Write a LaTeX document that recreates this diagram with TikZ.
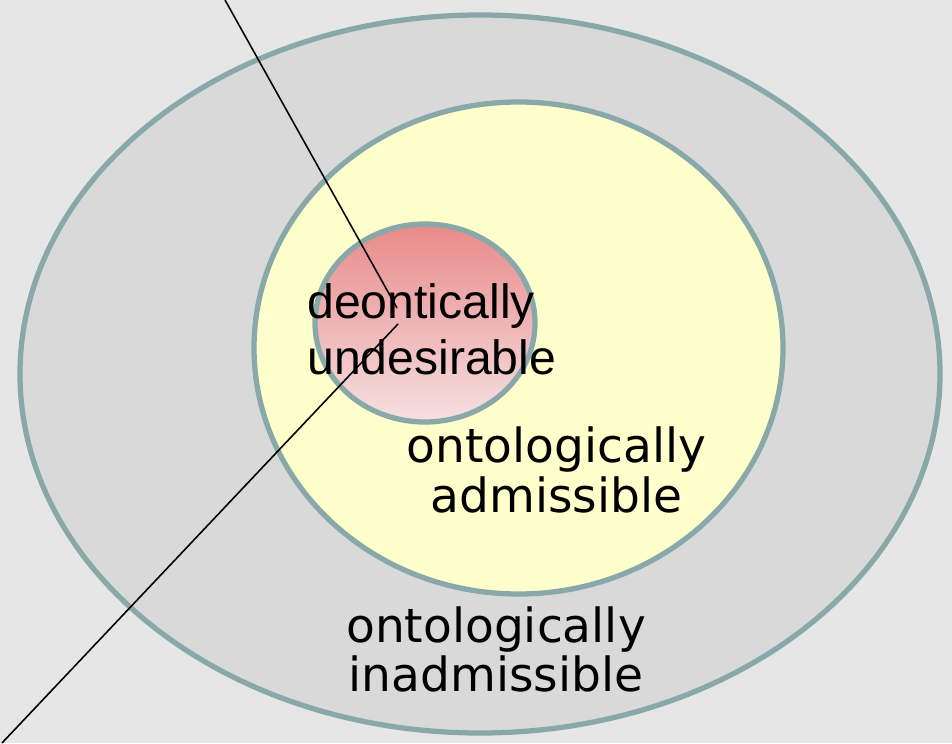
\documentclass[tikz,border=0pt]{standalone}
\usepackage{fontspec}
\setmainfont{Liberation Sans}
\newfontfamily\wideface{DejaVu Sans}
\usetikzlibrary{calc, positioning}

\definecolor{rim}{HTML}{88A8AA}
\definecolor{pagegray}{HTML}{E6E6E6}
\definecolor{outergray}{HTML}{D9D9D9}
\definecolor{paleyellow}{HTML}{FFFFCC}
\definecolor{rosetop}{HTML}{E88A8A}
\definecolor{rosebottom}{HTML}{F6E0E1}

\tikzset{
  region/.style={draw=rim, line width=3pt},
  label/.style={inner sep=0pt, align=center, font=\wideface\fontsize{26.8}{28.3}\selectfont},
  pointer/.style={line width=0.9pt, black}
}

\begin{document}
\begin{tikzpicture}[x=0.02cm, y=-0.02cm]
\fill[pagegray] (0,0) rectangle (952,743);
\useasboundingbox (0,0) rectangle (952,743);
% nested regions
\draw[region, fill=outergray] (480,374) ellipse [x radius=460, y radius=359];
\draw[region, fill=paleyellow] (518.5,348) ellipse [x radius=264.5, y radius=246];
\draw[region, top color=rosetop, bottom color=rosebottom]
  (425,323) ellipse [x radius=110, y radius=99];
% texts
\node[inner sep=0pt, anchor=north west, align=left,
  font=\fontsize{27.4}{31.8}\selectfont] (desire) at (307,283)
  {deontically\\undesirable};
\node[label] (admiss) at (556.5,470) {ontologically\\admissible};
\node[label] (inadmiss) at (496,649.5) {ontologically\\inadmissible};
% pointers
\coordinate (upend) at (225,0);
\coordinate (tipa) at (397,308);
\coordinate (tipb) at (398,324);
\coordinate (lowend) at (2,743);
\draw[pointer] (upend) -- (tipa);
\draw[pointer] (tipb) -- (lowend);
\end{tikzpicture}
\end{document}
